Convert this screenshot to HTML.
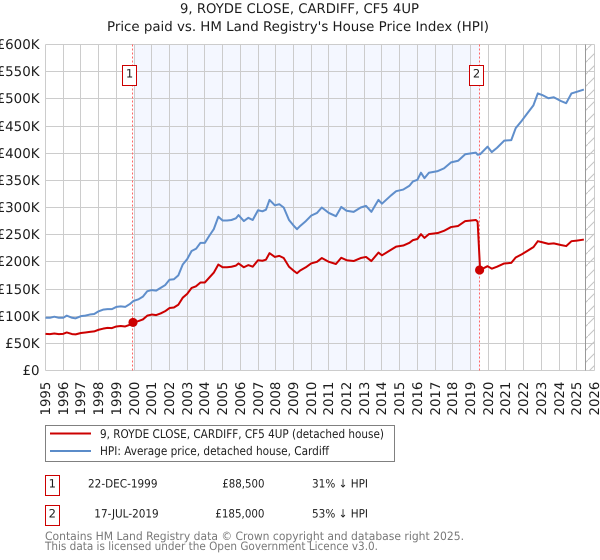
<!DOCTYPE html>
<html lang="en">
<head>
<meta charset="utf-8">
<title>9, ROYDE CLOSE, CARDIFF, CF5 4UP</title>
<style>
html,body{margin:0;padding:0;background:#fff;width:600px;height:560px;overflow:hidden}
svg{display:block}
text{font-family:"DejaVu Sans","Liberation Sans",sans-serif;fill:#1c1c1c;text-rendering:geometricPrecision}
</style>
</head>
<body>
<svg id="chart" xmlns="http://www.w3.org/2000/svg" width="600" height="560" viewBox="0 0 600 560">
  <defs>
    <pattern id="hatch" patternUnits="userSpaceOnUse" width="12" height="12">
      <path d="M0 12L12 0" stroke="#c4c4c4" stroke-width="1" fill="none"/>
    </pattern>
  </defs>
  <text x="180" y="13" font-size="13.3" textLength="239" lengthAdjust="spacingAndGlyphs">9, ROYDE CLOSE, CARDIFF, CF5 4UP</text>
  <text x="107" y="31" font-size="13.3" textLength="382" lengthAdjust="spacingAndGlyphs">Price paid vs. HM Land Registry's House Price Index (HPI)</text>
  <g id="plot"></g>

  <g>
    <rect x="45.5" y="425.5" width="349" height="36" fill="#fff" stroke="#808080" stroke-width="1"/>
    <line x1="50" x2="91" y1="433.5" y2="433.5" stroke="#cc0000" stroke-width="2"/>
    <text x="100" y="438" font-size="12" textLength="284" lengthAdjust="spacingAndGlyphs">9, ROYDE CLOSE, CARDIFF, CF5 4UP (detached house)</text>
    <line x1="50" x2="91" y1="451" y2="451" stroke="#5b8cc9" stroke-width="2"/>
    <text x="100" y="455" font-size="12" textLength="229" lengthAdjust="spacingAndGlyphs">HPI: Average price, detached house, Cardiff</text>
  </g>

  <g font-size="11.5">
    <rect x="45.5" y="475.5" width="14" height="20" fill="#fff" stroke="#cc0000" stroke-width="1"/>
    <text x="52.3" y="487.5" text-anchor="middle">1</text>
    <text x="88" y="487.5" textLength="69.5" lengthAdjust="spacingAndGlyphs">22-DEC-1999</text>
    <text x="222.3" y="487.5" textLength="42.2" lengthAdjust="spacingAndGlyphs">£88,500</text>
    <text x="312" y="487.5" textLength="56" lengthAdjust="spacingAndGlyphs">31% ↓ HPI</text>
    <rect x="45.5" y="505.5" width="14" height="20" fill="#fff" stroke="#cc0000" stroke-width="1"/>
    <text x="52.3" y="517.5" text-anchor="middle">2</text>
    <text x="94.3" y="517.5" textLength="64.4" lengthAdjust="spacingAndGlyphs">17-JUL-2019</text>
    <text x="215.3" y="517.5" textLength="49.2" lengthAdjust="spacingAndGlyphs">£185,000</text>
    <text x="312" y="517.5" textLength="56" lengthAdjust="spacingAndGlyphs">53% ↓ HPI</text>
  </g>

  <text x="45" y="540" font-size="11.5" style="fill:#777" textLength="419" lengthAdjust="spacingAndGlyphs">Contains HM Land Registry data © Crown copyright and database right 2025.</text>
  <text x="45" y="550" font-size="11.5" style="fill:#777" textLength="333" lengthAdjust="spacingAndGlyphs">This data is licensed under the Open Government Licence v3.0.</text>
</svg>

<script>
const yearTicks = [1995,1996,1997,1998,1999,2000,2001,2002,2003,2004,2005,2006,2007,2008,2009,2010,2011,2012,2013,2014,2015,2016,2017,2018,2019,2020,2021,2022,2023,2024,2025,2026];
const priceTicks = [0,50,100,150,200,250,300,350,400,450,500,550,600];
const priceTickLabels = ['£0','£50K','£100K','£150K','£200K','£250K','£300K','£350K','£400K','£450K','£500K','£550K','£600K'];
const dates = [1995,1995.25,1995.5,1995.75,1996,1996.2,1996.5,1996.7,1997,1997.25,1997.5,1997.75,1998,1998.25,1998.5,1998.75,1999,1999.25,1999.5,1999.75,1999.97,2000.25,2000.5,2000.75,2001,2001.25,2001.5,2001.75,2002,2002.25,2002.5,2002.75,2003,2003.25,2003.5,2003.75,2004,2004.25,2004.5,2004.76,2005,2005.25,2005.5,2005.75,2005.9,2006.2,2006.45,2006.7,2007,2007.25,2007.45,2007.65,2007.95,2008.2,2008.45,2008.75,2009,2009.2,2009.38,2009.7,2010,2010.33,2010.6,2011,2011.4,2011.7,2012,2012.4,2012.8,2013.1,2013.4,2013.8,2014,2014.5,2014.8,2015.2,2015.55,2015.75,2016,2016.2,2016.4,2016.65,2017.15,2017.5,2017.9,2018.3,2018.7,2019.3,2019.4,2019.54,2019.96,2020.2,2020.5,2020.9,2021.3,2021.55,2021.9,2022.2,2022.55,2022.8,2023.05,2023.4,2023.7,2024.1,2024.4,2024.7,2025,2025.4];
const hpiValues = [97,97,99,97,97,101,97,96,100,101,103,104,109,112,113,113,117,118,117,122,128,131,136,146,148,147,152,157,167,168,175,195,205,220,224,235,235,248,260,283,276,276,277,280,286,275,281,277,295,293,296,314,304,306,300,277,267,260,266,275,285,290,300,290,284,301,294,292,300,303,292,314,307,322,330,333,340,348,351,364,354,364,367,372,383,386,398,401,397,398,412,402,410,423,424,446,460,473,488,510,507,501,503,496,492,510,513,517];
const paidValues = [67.5,67,68,67,67.5,70,67,66.5,69,70,71,72,75,77,78.5,78,81,82,81,84,88.5,91,94,101,103,102,105,109,115,116,121,134,141,152,155,162,162,171,180,195,190,190,191,193,197,190,194,191,203,202,204,216,209,211,207,191,184,179,184,190,197,200,207,200,196,207.5,203,201.5,207,209,201.5,217,212,222,228,230,235,240,242,251,244,251,253,257,264,266,275,277,274,185,192,187.5,191,197,198,208,214,220,227,238,236,233,234,231,229,238,239,241];
const saleDates = [1999.97,2019.54];
const salePrices = [88.5,185];
const saleNumbers = ['1','2'];
const dataEndDate = 2025.5;

const NS = 'http://www.w3.org/2000/svg';
const plot = document.getElementById('plot');
const left = 45.5, right = 594.5, top_ = 44.5, bottom = 370.5;
const xMin = 1995, xMax = 2026, yMax = 600;
function xScale(d){ return left + (d - xMin) / (xMax - xMin) * (right - left); }
function yScale(v){ return bottom - v / yMax * (bottom - top_); }
function crisp(p){ return Math.floor(p) + 0.5; }
function make(tag, attrs, parent){
  const el = document.createElementNS(NS, tag);
  for (const k in attrs) el.setAttribute(k, attrs[k]);
  (parent || plot).appendChild(el);
  return el;
}

const shade = make('rect', {x: xScale(saleDates[0]), y: top_, width: xScale(saleDates[1]) - xScale(saleDates[0]), height: bottom - top_, fill: '#f4f7ff'});



priceTicks.forEach(function(v, i){
  const y = crisp(yScale(v));
  const g = make('line', {x1: left, x2: right, y1: y, y2: y, stroke: '#cccccc', 'stroke-width': 1});
  
  
  const t = make('text', {x: 39.5, y: y + 4.5, 'text-anchor': 'end', 'font-size': 13.4});
  
  
  t.textContent = priceTickLabels[i];
});

yearTicks.forEach(function(yr){
  const x = crisp(xScale(yr));
  const g = make('line', {x1: x, x2: x, y1: top_, y2: bottom, stroke: '#cccccc', 'stroke-width': 1});
  
  
  const t = make('text', {x: 0, y: 0, 'font-size': 13.3, transform: 'translate(' + (x + 4.5) + ',415.5) rotate(-90)'});
  
  
  t.textContent = String(yr);
});

const hatchRect = make('rect', {x: xScale(dataEndDate), y: top_, width: right - xScale(dataEndDate), height: bottom - top_, fill: 'url(#hatch)'});


const endLine = make('line', {x1: crisp(xScale(dataEndDate)), x2: crisp(xScale(dataEndDate)), y1: top_, y2: bottom, stroke: '#999999', 'stroke-width': 1});



saleDates.forEach(function(d){
  const x = crisp(xScale(d)) - 1;
  const l = make('line', {x1: x, x2: x, y1: top_, y2: bottom, stroke: '#ff6666', 'stroke-width': 1, 'stroke-dasharray': '2 2'});
  
  
});

function pts(vals){ return vals.map(function(v, i){ return xScale(dates[i]).toFixed(2) + ',' + yScale(v).toFixed(2); }).join(' '); }
const hpiLine = make('polyline', {points: pts(hpiValues), fill: 'none', stroke: '#5f8ecb', 'stroke-width': 2, 'stroke-linejoin': 'round'});


const paidLine = make('polyline', {points: pts(paidValues), fill: 'none', stroke: '#cc0000', 'stroke-width': 2, 'stroke-linejoin': 'round'});



saleDates.forEach(function(d, i){
  const cx = xScale(d), cy = yScale(salePrices[i]);
  const c = make('circle', {cx: cx - 0.5, cy: cy, r: 4.6, fill: '#cc0000'});
  
  
  const bx = crisp(cx) - 11;
  const b = make('rect', {x: bx, y: 65.5, width: 14, height: 20, fill: '#fff', stroke: '#cc0000', 'stroke-width': 1});
  
  
  const t = make('text', {x: bx + 7, y: 77.5, 'text-anchor': 'middle', 'font-size': 11.5});
  
  
  t.textContent = saleNumbers[i];
});
</script>
</body>
</html>
